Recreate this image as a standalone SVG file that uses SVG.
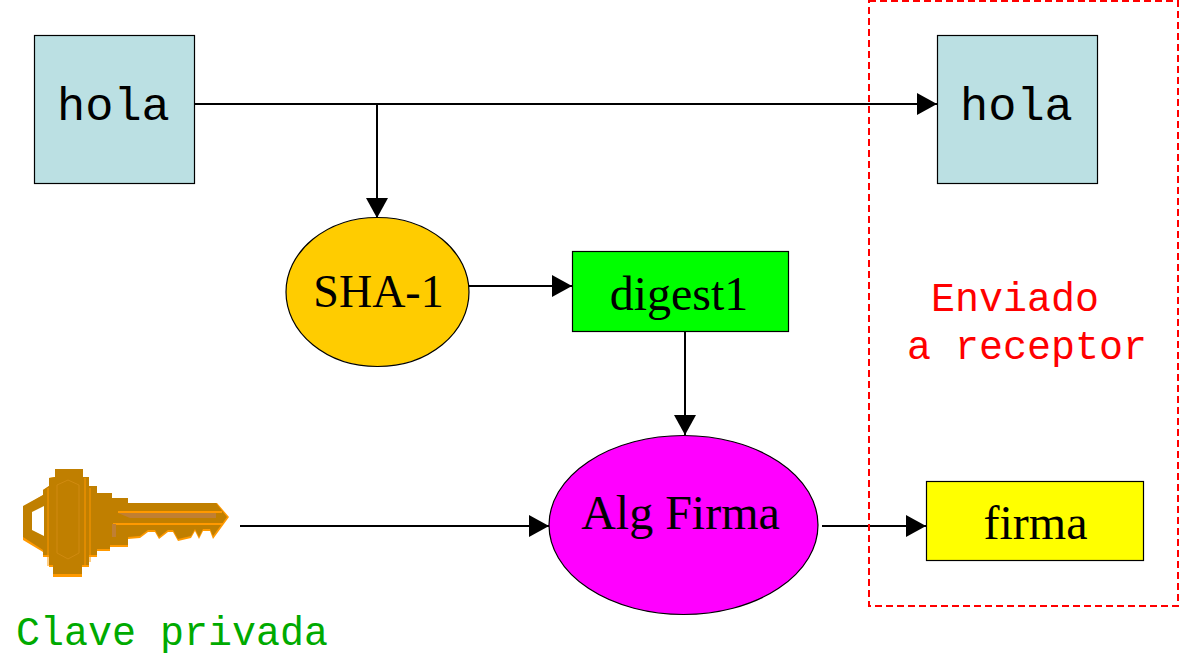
<svg xmlns="http://www.w3.org/2000/svg" width="1181" height="666" viewBox="0 0 1181 666">
<style>
.s{stroke:#000;stroke-width:1.2}
.m{font-family:"Liberation Mono",monospace;font-size:47px}
.r{font-size:40px}
.t{font-family:"Liberation Serif",serif;font-size:48px;text-anchor:middle;fill:#000}
.c{stroke:#000;stroke-width:2;fill:none}
</style>
<defs><marker id="a" markerUnits="userSpaceOnUse" markerWidth="21" markerHeight="22" refX="20" refY="11" orient="auto"><path d="M0 0L20 11L0 22Z" fill="#000"/></marker></defs>
<rect width="1181" height="666" fill="#fff"/>
<g id="connectors">
<path class="c" d="M194 104H937" marker-end="url(#a)"/>
<path class="c" d="M377 104V218" marker-end="url(#a)"/>
<path class="c" d="M469 286H572" marker-end="url(#a)"/>
<path class="c" d="M685 332V435" marker-end="url(#a)"/>
<path class="c" d="M240 526H549" marker-end="url(#a)"/>
<path class="c" d="M822 526H926" marker-end="url(#a)"/>
</g>
<g id="envio">
<rect x="869" y="1" width="309" height="605" fill="none" stroke="#f00" stroke-width="2" stroke-dasharray="7 4"/>
<text class="m r" fill="#f00" x="931" y="311">Enviado</text>
<text class="m r" fill="#f00" x="907" y="359">a receptor</text>
</g>
<g id="hola1"><rect class="s" x="34.500" y="35.500" width="160" height="148" fill="#bbe0e3"/><text class="m" x="57" y="120">hola</text></g>
<g id="hola2"><rect class="s" x="937.500" y="35.500" width="160" height="148" fill="#bbe0e3"/><text class="m" x="960" y="120">hola</text></g>
<g id="sha"><ellipse class="s" cx="377.500" cy="292" rx="91.500" ry="74.500" fill="#fc0"/><text class="t" x="378.500" y="307" style="font-size:46px">SHA-1</text></g>
<g id="digest"><rect class="s" x="572.500" y="251.500" width="216" height="80" fill="#0f0"/><text class="t" x="679" y="310">digest1</text></g>
<g id="alg"><ellipse class="s" cx="683.500" cy="525" rx="134.500" ry="89.500" fill="#f0f"/><text class="t" x="680.500" y="529">Alg Firma</text></g>
<g id="firma"><rect class="s" x="926.500" y="481.500" width="217" height="79" fill="#ff0"/><text class="t" x="1035.500" y="539">firma</text></g>
<g id="key">
<path fill="#f90" d="M23 507L43 495V490L49 486V478L55 477V469H83V477H89V486H97V493H112V498H128V503H217L229 517L213 539L210 531H203L199 539L195 531L191 538L178 541L173 532H168L159 539L155 532H148L140 538L128 539V547H110V551H97V557H89V567H82V577H53V567H49V557H43V552L23 540Z"/>
<path fill="#c07f00" d="M23 506L43 495V490L49 486V478L55 477V469H83V477H89V486H97V493H112V498H128V503H216L227 517L213 536L210 529H203L199 537L195 529L191 536L178 539L173 530H168L159 537L155 530H148L140 536L128 537V545H110V549H97V555H89V565H82V574H53V565H49V555H43V550L23 537Z"/>
<path fill="#fff" d="M32 512L44 506V536L32 530Z"/>
<path fill="none" stroke="#d08a10" stroke-width="1" d="M57 485L68 480L79 485V553L68 559L57 553Z"/>
<path fill="none" stroke="#f90" stroke-width="1" d="M48 488V566M85 478V566M90 488V562"/>
<path fill="none" stroke="#f90" stroke-width="2" d="M118 512H222M113 524H223"/>
<path fill="#c07f33" d="M118 513L130 518H216V513ZM112 524H116V537H112Z"/>
</g>
<g id="clave"><text class="m r" fill="#0a0" x="16" y="645">Clave privada</text></g>
</svg>
